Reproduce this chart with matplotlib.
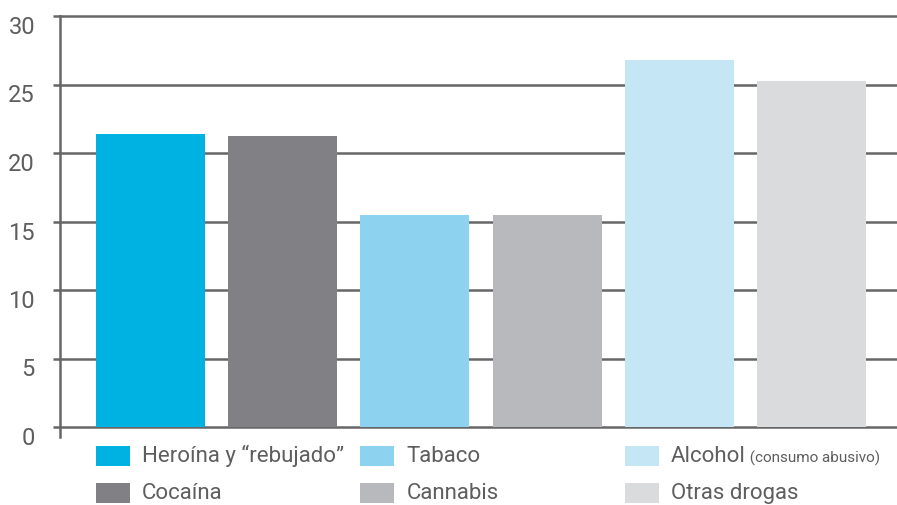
import matplotlib
matplotlib.use("Agg")
import matplotlib.pyplot as plt
from matplotlib.patches import Rectangle
from matplotlib.transforms import blended_transform_factory

plt.rcParams['font.family'] = ['Roboto', 'DejaVu Sans']

categorias = ['Heroína y “rebujado”', 'Cocaína', 'Tabaco', 'Cannabis',
              'Alcohol', 'Otras drogas']
valores = [21.4, 21.25, 15.45, 15.45, 26.8, 25.25]
colores = ['#00b2e2', '#808085', '#8dd3ef', '#b8b9bd', '#c5e6f5', '#dadbdd']
yticks = [0, 5, 10, 15, 20, 25, 30]

gris = '#666666'
texto = '#5e5e5e'

fig = plt.figure(figsize=(8.97, 5.05), dpi=100)
ax = fig.add_axes([60/897, 78/505, 837/897, 411/505])

x = list(range(len(valores)))
ax.bar(x, valores, width=0.824, color=colores, zorder=2)
ax.set_xlim(-0.685, 5.647)
ax.set_ylim(0, 30)
ax.set_yticks(yticks)
ax.set_xticks([])
ax.grid(axis='y', color=gris, linewidth=1.8, zorder=1)
ax.set_axisbelow(True)
for gl in ax.get_ygridlines():
    gl.set_clip_on(False)
for s in ['top', 'right', 'bottom']:
    ax.spines[s].set_visible(False)
ax.spines['left'].set_color(gris)
ax.spines['left'].set_linewidth(1.8)
ax.spines['left'].set_bounds(-0.7, 30)
ax.tick_params(axis='y', length=5, width=1.8, color=gris, pad=13,
               labelsize=17, labelcolor=texto)
for lab in ax.get_yticklabels():
    lab.set_va('top')

# leyenda manual, alineada con las barras 1, 3 y 5
tr = blended_transform_factory(ax.transData, ax.transAxes)
filas_y = [-0.0462, -0.1363]
for i, (cat, col) in enumerate(zip(categorias, colores)):
    x0 = x[2 * (i // 2)] - 0.412
    y0 = filas_y[i % 2]
    ax.add_patch(Rectangle((x0, y0 - 0.0487), 0.257, 0.0487, transform=tr,
                           facecolor=col, edgecolor='none', clip_on=False))
    t = ax.text(x0 + 0.348, y0 - 0.0244, cat, transform=tr, fontsize=16,
                color=texto, va='center', ha='left', clip_on=False)
    if cat == 'Alcohol':
        ax.annotate(' (consumo abusivo)', xy=(1, 0.2), xycoords=t,
                    fontsize=11, color=texto, va='baseline', ha='left',
                    annotation_clip=False)

fig.savefig('out.png', dpi=100)
